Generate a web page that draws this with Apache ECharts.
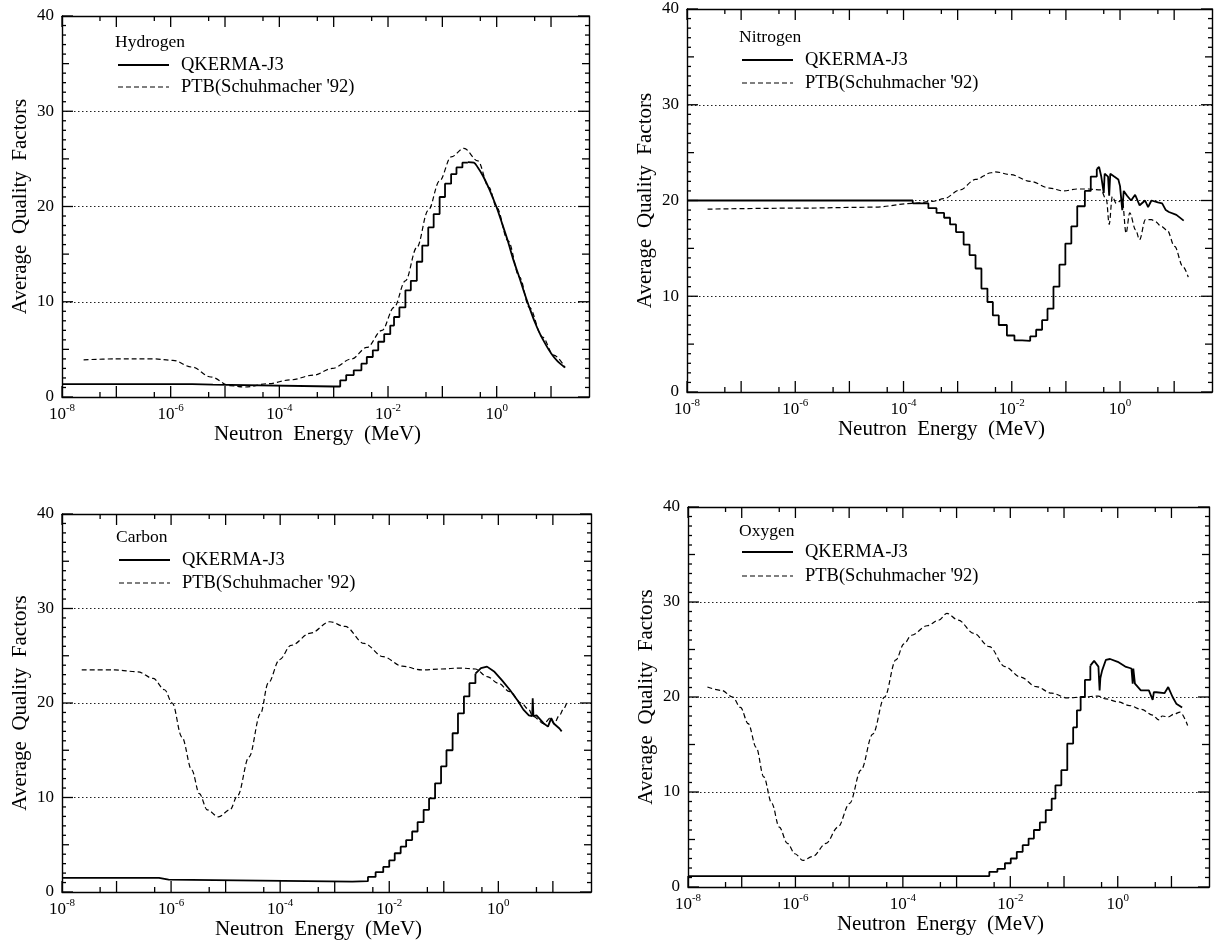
<!DOCTYPE html>
<html>
<head>
<meta charset="utf-8">
<title>Average Quality Factors</title>
<script src="https://cdn.jsdelivr.net/npm/echarts@6/dist/echarts.min.js"></script>
<style>
  html, body { margin: 0; padding: 0; background: #fff; }
  #chart { width: 1214px; height: 942px; }
</style>
</head>
<body>
<div id="chart"></div>
<script>
// ---- Axis ticks and labels (neutron energy in MeV, quality factor) ----
const decadeTicks = [1e-8, 1e-7, 1e-6, 1e-5, 1e-4, 1e-3, 1e-2, 1e-1, 1, 10];
const halfDecadeTicks = [5e-8, 5e-7, 5e-6, 5e-5, 5e-4, 5e-3, 5e-2, 5e-1, 5];
const energyLabels = [1e-8, 1e-6, 1e-4, 1e-2, 1];
const energyMin = 1e-8;
const energyMax = 50;
const qualityMin = 0;
const qualityMax = 40;
const qualityStep = 10;
const qualityMajorTicks = [0, 10, 20, 30, 40];
const qualityMidTicks = [5, 15, 25, 35];

const elements = ['Hydrogen', 'Nitrogen', 'Carbon', 'Oxygen'];
const seriesNames = ['QKERMA-J3', "PTB(Schuhmacher '92)"];

// ---- Hydrogen ----
// group-wise (histogram) part of QKERMA-J3
const hydrogenQkerma = [
  [1e-8, 1.35], [2.5e-6, 1.3], [6e-6, 1.1], [1e-3, 1.1],
  [1.32e-3, 1.75], [1.7e-3, 2.3], [2.34e-3, 2.8], [3.24e-3, 3.5], [4.07e-3, 4.2],
  [5.25e-3, 4.9], [6.61e-3, 5.8], [8.51e-3, 6.6], [1.1e-2, 7.5], [1.29e-2, 8.4],
  [1.62e-2, 9.4], [2.09e-2, 11.2], [2.63e-2, 12.2], [3.39e-2, 14.2], [4.27e-2, 15.9],
  [5.5e-2, 17.8], [6.92e-2, 19.2], [8.91e-2, 21.0], [0.112, 22.4], [0.145, 23.4],
  [0.182, 24.1], [0.234, 24.6], [0.295, 24.65]
];
// fine-group part above the peak
const hydrogenQkermaHigh = [
  [0.295, 24.65], [0.38, 24.6], [0.45, 24.1], [0.56, 23.2], [0.72, 21.9], [0.85, 20.9],
  [1.0, 19.9], [1.26, 18.2], [1.6, 16.4], [2.0, 14.5], [2.6, 12.6], [3.2, 11.0],
  [4.0, 9.4], [5.0, 7.9], [6.3, 6.6], [8.0, 5.5], [10, 4.6], [13, 3.8], [18, 3.1]
];
const hydrogenPtb = [
  [2.5e-8, 3.9], [9.5e-8, 4.0], [4.8e-7, 4.0], [1.1e-6, 3.85], [2.45e-6, 3.15],
  [5.5e-6, 2.1], [1.23e-5, 1.2], [2.34e-5, 1.05], [6.2e-5, 1.4], [1.62e-4, 1.8],
  [4.27e-4, 2.3], [9.5e-4, 3.0], [2.14e-3, 4.0], [4.07e-3, 5.2], [7.76e-3, 7.0],
  [1.29e-2, 9.4], [2.09e-2, 12.2], [3.39e-2, 15.7], [5.5e-2, 19.6], [8.91e-2, 22.7],
  [0.145, 25.2], [0.25, 26.1], [0.45, 24.8], [0.72, 22.0], [1.0, 19.9],
  [1.62, 16.4], [2.63, 12.6], [3.98, 9.4], [6.92, 6.3], [11.2, 4.4], [18.2, 3.1]
];

// ---- Nitrogen ----
const nitrogenQkerma = [
  [1e-8, 20.0], [7.6e-5, 20.0], [1.48e-4, 19.7], [2.88e-4, 19.2], [4.07e-4, 18.7],
  [5.62e-4, 18.2], [7.24e-4, 17.5], [9.33e-4, 16.7], [1.29e-3, 15.4], [1.66e-3, 14.3],
  [2.14e-3, 12.9], [2.75e-3, 10.8], [3.55e-3, 9.4], [4.47e-3, 8.0], [5.75e-3, 7.0],
  [8.13e-3, 5.9], [1.12e-2, 5.4], [1.55e-2, 5.35], [2.19e-2, 5.8], [2.82e-2, 6.5],
  [3.63e-2, 7.5], [4.57e-2, 8.7], [5.89e-2, 11.0], [7.59e-2, 13.3], [9.77e-2, 15.5],
  [0.126, 17.3], [0.162, 19.4], [0.224, 21.0], [0.288, 22.5], [0.372, 23.3]
];
const nitrogenQkermaHigh = [
  [0.372, 23.3], [0.41, 23.5], [0.45, 22.5], [0.5, 20.8], [0.52, 22.8], [0.6, 22.5],
  [0.63, 20.5], [0.66, 22.8], [0.78, 22.5], [0.93, 22.2], [1.0, 21.5], [1.1, 19.0],
  [1.17, 21.0], [1.35, 20.5], [1.6, 20.0], [1.9, 20.6], [2.3, 19.5], [2.9, 20.0],
  [3.3, 19.3], [3.8, 20.0], [5.0, 19.8], [6.0, 19.7], [7.0, 19.0], [8.0, 18.8],
  [11, 18.5], [15, 17.9]
];
const nitrogenPtb = [
  [2.4e-8, 19.1], [1e-6, 19.2], [2.8e-5, 19.3], [1.48e-4, 19.7], [3.39e-4, 19.9],
  [5.62e-4, 20.2], [1.1e-3, 21.1], [2.14e-3, 22.2], [4.17e-3, 22.9], [4.9e-3, 23.0],
  [9.55e-3, 22.7], [2.19e-2, 22.0], [5.01e-2, 21.3], [8.91e-2, 21.0], [0.162, 21.2],
  [0.263, 21.2], [0.44, 21.1], [0.56, 20.1], [0.63, 17.5], [0.72, 20.4], [0.85, 19.7],
  [1.1, 20.1], [1.29, 16.6], [1.51, 18.7], [1.95, 16.9], [2.29, 15.9], [2.95, 18.0],
  [3.8, 18.0], [4.47, 17.8], [5.75, 17.3], [7.41, 16.9], [10.2, 15.2], [14.5, 13.1],
  [18.2, 12.0]
];

// ---- Carbon ----
const carbonQkerma = [
  [1e-8, 1.5], [3.4e-7, 1.5], [6e-7, 1.3], [9e-7, 1.1], [2.1e-3, 1.15],
  [4.07e-3, 1.6], [5.62e-3, 2.1], [7.76e-3, 2.65], [1e-2, 3.35], [1.26e-2, 4.1],
  [1.62e-2, 4.8], [2.04e-2, 5.5], [2.63e-2, 6.4], [3.31e-2, 7.4], [4.27e-2, 8.7],
  [5.37e-2, 9.9], [6.92e-2, 11.5], [8.91e-2, 13.3], [0.112, 15.0], [0.145, 16.8],
  [0.182, 18.9], [0.234, 20.7], [0.295, 22.1], [0.38, 23.1]
];
const carbonQkermaHigh = [
  [0.38, 23.1], [0.48, 23.7], [0.62, 23.85], [0.85, 23.3], [1.17, 22.4], [1.62, 21.4],
  [2.24, 20.3], [2.88, 19.3], [3.63, 18.7], [4.17, 18.6], [4.27, 20.5], [4.4, 18.6],
  [5.01, 18.7], [6.92, 17.8], [8.13, 17.5], [9.33, 18.4], [10.5, 17.8], [13.2, 17.3],
  [14.5, 17.0]
];
const carbonPtb = [
  [2.3e-8, 23.5], [9.3e-8, 23.5], [2.45e-7, 23.3], [4.7e-7, 22.6], [7.6e-7, 21.4],
  [1.05e-6, 20.0], [1.58e-6, 16.4], [2.4e-6, 12.9], [3.3e-6, 10.4], [4.6e-6, 8.7],
  [7.4e-6, 7.95], [1.2e-5, 8.7], [1.66e-5, 10.2], [2.69e-5, 14.3], [4.37e-5, 18.9],
  [6.03e-5, 22.1], [9.8e-5, 24.6], [1.58e-4, 26.1], [3.63e-4, 27.4], [8.1e-4, 28.6],
  [1.55e-3, 28.1], [3.47e-3, 26.3], [7.76e-3, 24.9], [1.74e-2, 23.9], [3.89e-2, 23.5],
  [8.91e-2, 23.6], [0.2, 23.7], [0.38, 23.6], [0.62, 22.8], [1.0, 22.1], [1.62, 21.2],
  [2.63, 20.0], [3.63, 19.3], [4.27, 18.6], [6.92, 17.8], [8.9, 18.4], [10.5, 17.8],
  [13.2, 18.7], [15.8, 19.4], [18.6, 20.3]
];

// ---- Oxygen ----
const oxygenQkerma = [
  [1e-8, 1.15], [3.0e-3, 1.15], [4.07e-3, 1.6], [5.75e-3, 1.9], [7.94e-3, 2.5],
  [1.02e-2, 3.0], [1.32e-2, 3.7], [1.7e-2, 4.4], [2.19e-2, 5.1], [2.75e-2, 6.0],
  [3.55e-2, 6.8], [4.57e-2, 8.1], [5.89e-2, 9.3], [6.92e-2, 10.7], [8.91e-2, 12.3],
  [0.115, 15.1], [0.148, 16.8], [0.174, 18.6], [0.204, 20.0], [0.245, 21.8],
  [0.309, 23.3]
];
const oxygenQkermaHigh = [
  [0.309, 23.3], [0.363, 23.8], [0.437, 23.2], [0.46, 20.7], [0.475, 22.0],
  [0.513, 22.8], [0.6, 23.9], [0.72, 24.0], [1.0, 23.7], [1.38, 23.2], [1.8, 23.0],
  [1.9, 21.4], [1.95, 23.0], [2.09, 21.4], [2.69, 20.7], [3.8, 20.7], [4.47, 19.7],
  [4.7, 20.5], [5.25, 20.5], [7.41, 20.4], [8.7, 21.05], [10.5, 20.0], [12.3, 19.3],
  [15.8, 18.9]
];
const oxygenPtb = [
  [2.3e-8, 21.05], [4.2e-8, 20.7], [6.8e-8, 20.0], [9.5e-8, 18.9], [1.32e-7, 17.2],
  [1.86e-7, 14.7], [2.57e-7, 11.6], [3.63e-7, 8.8], [5.01e-7, 6.3], [7.08e-7, 4.6],
  [9.8e-7, 3.5], [1.38e-6, 2.8], [2.09e-6, 3.2], [3.72e-6, 4.6], [6.17e-6, 6.3],
  [1.02e-5, 8.8], [1.66e-5, 12.3], [2.75e-5, 16.1], [4.57e-5, 20.0], [7.41e-5, 23.9],
  [1.05e-4, 25.6], [1.45e-4, 26.5], [2.82e-4, 27.5], [4.68e-4, 28.1], [6.61e-4, 28.8],
  [1.07e-3, 28.1], [2.09e-3, 26.7], [4.07e-3, 25.3], [7.94e-3, 23.2], [1.55e-2, 22.1],
  [3.02e-2, 21.1], [5.89e-2, 20.4], [0.115, 19.9], [0.224, 20.0], [0.437, 20.1],
  [0.6, 19.8], [1.0, 19.5], [1.66, 19.1], [2.75, 18.7], [4.47, 18.1], [5.75, 17.6],
  [6.76, 18.0], [8.7, 17.9], [11.2, 18.2], [14.5, 18.4], [20, 17.0]
];

const qkermaGroups = [hydrogenQkerma, nitrogenQkerma, carbonQkerma, oxygenQkerma];
const qkermaHigh = [hydrogenQkermaHigh, nitrogenQkermaHigh, carbonQkermaHigh, oxygenQkermaHigh];
const ptbData = [hydrogenPtb, nitrogenPtb, carbonPtb, oxygenPtb];

// ---- Layout of the four panels ----
const FONT = '"Liberation Serif", "Times New Roman", serif';
const INK = '#000';
const panelBoxes = [
  { left: 62,  top: 16,  width: 527, height: 381 },
  { left: 687, top: 9,   width: 525, height: 383 },
  { left: 62,  top: 514, width: 529, height: 378 },
  { left: 688, top: 507, width: 521, height: 380 }
];
// key placement inside each panel: element name, first and second key rows
const keyPlacement = [
  { dx: 53, nameY: 27, row1: 49, row2: 71 },
  { dx: 52, nameY: 29, row1: 51, row2: 74 },
  { dx: 54, nameY: 24, row1: 46, row2: 69 },
  { dx: 51, nameY: 25, row1: 45, row2: 69 }
];

function energyAxis(i, position, withLabels) {
  return {
    type: 'log', logBase: 10, gridIndex: i, position: position,
    min: energyMin, max: energyMax,
    axisLine: { show: true, onZero: false, lineStyle: { color: INK, width: 1.4 } },
    axisTick: { show: false },
    axisLabel: {
      show: withLabels, customValues: energyLabels, margin: 6,
      formatter: v => '{b|10}{s|' + Math.round(Math.log10(v)) + '}',
      rich: {
        b: { fontFamily: FONT, fontSize: 17, color: INK, lineHeight: 20, verticalAlign: 'bottom' },
        s: { fontFamily: FONT, fontSize: 11, color: INK, lineHeight: 12, verticalAlign: 'top' }
      }
    },
    splitLine: { show: false },
    name: withLabels ? 'Neutron  Energy  (MeV)' : '',
    nameLocation: 'middle', nameGap: 26,
    nameTextStyle: { fontFamily: FONT, fontSize: 21, color: INK, padding: [0, 16, 0, 0] }
  };
}

function qualityAxis(i, position, withLabels) {
  return {
    type: 'value', gridIndex: i, position: position,
    min: qualityMin, max: qualityMax, interval: qualityStep,
    axisLine: { show: true, lineStyle: { color: INK, width: 1.4 } },
    axisTick: { show: false },
    axisLabel: { show: withLabels, fontFamily: FONT, fontSize: 17, color: INK, margin: 8 },
    splitLine: { show: withLabels, lineStyle: { color: '#222', width: 1.1, type: [1.5, 2.5] } },
    name: withLabels ? 'Average  Quality  Factors' : '',
    nameLocation: 'middle', nameGap: 31,
    nameTextStyle: { fontFamily: FONT, fontSize: 21, color: INK }
  };
}

function tickLine(x1, y1, x2, y2) {
  return { type: 'line', shape: { x1, y1, x2, y2 }, style: { stroke: INK, lineWidth: 1.3 } };
}

// inward tick marks on both bottom/top frame edges, placed through the energy scale
function renderEnergyTicks(params, api) {
  const e = api.value(0);
  const len = api.value(2) === 2 ? 11 : 5;
  const b = api.coord([e, qualityMin]);
  const t = api.coord([e, qualityMax]);
  return { type: 'group', children: [
    tickLine(b[0], b[1], b[0], b[1] - len),
    tickLine(t[0], t[1], t[0], t[1] + len)
  ] };
}

// inward tick marks on both left/right frame edges, placed through the quality scale
function renderQualityTicks(params, api) {
  const q = api.value(1);
  const len = [4, 7, 11][api.value(2)];
  const l = api.coord([energyMin, q]);
  const r = api.coord([energyMax, q]);
  return { type: 'group', children: [
    tickLine(l[0], l[1], l[0] + len, l[1]),
    tickLine(r[0], r[1], r[0] - len, r[1])
  ] };
}

const energyTickData = decadeTicks.map(v => [v, qualityMin, 2])
  .concat(halfDecadeTicks.map(v => [v, qualityMin, 0]));
const qualityTickData = [];
for (let q = qualityMin; q <= qualityMax; q++) {
  const level = qualityMajorTicks.includes(q) ? 2 : (qualityMidTicks.includes(q) ? 1 : 0);
  qualityTickData.push([energyMin, q, level]);
}

const grid = [], xAxis = [], yAxis = [], series = [], graphic = [];

panelBoxes.forEach((box, i) => {
  grid.push(Object.assign({ containLabel: false }, box));
  xAxis.push(energyAxis(i, 'bottom', true));
  xAxis.push(energyAxis(i, 'top', false));
  yAxis.push(qualityAxis(i, 'left', true));
  yAxis.push(qualityAxis(i, 'right', false));

  const xi = 2 * i, yi = 2 * i;
  const solid = { color: INK, width: 1.8 };
  const dashed = { color: INK, width: 1.2, type: [5, 3] };

  series.push({
    type: 'line', name: seriesNames[0], xAxisIndex: xi, yAxisIndex: yi,
    data: qkermaGroups[i], step: 'end', symbol: 'none', z: 4,
    lineStyle: solid, itemStyle: { color: INK }
  });
  series.push({
    type: 'line', name: seriesNames[0], xAxisIndex: xi, yAxisIndex: yi,
    data: qkermaHigh[i], smooth: i === 0 ? 0.3 : false, symbol: 'none', z: 4,
    lineStyle: solid, itemStyle: { color: INK }
  });
  series.push({
    type: 'line', name: seriesNames[1], xAxisIndex: xi, yAxisIndex: yi,
    data: ptbData[i], smooth: 0.35, smoothMonotone: 'x', symbol: 'none', z: 3,
    lineStyle: dashed, itemStyle: { color: INK }
  });
  series.push({
    type: 'custom', xAxisIndex: xi, yAxisIndex: yi, silent: true, clip: false, z: 5,
    encode: { x: 0, y: 1 }, data: energyTickData, renderItem: renderEnergyTicks
  });
  series.push({
    type: 'custom', xAxisIndex: xi, yAxisIndex: yi, silent: true, clip: false, z: 5,
    encode: { x: 0, y: 1 }, data: qualityTickData, renderItem: renderQualityTicks
  });

  // element name and line key
  const k = keyPlacement[i];
  const x0 = box.left + k.dx;
  const keyText = { fontFamily: FONT, fontSize: 18.5, fill: INK, textVerticalAlign: 'middle' };
  graphic.push(
    { type: 'text', left: x0, top: box.top + k.nameY - 10,
      style: { text: elements[i], fontFamily: FONT, fontSize: 17.5, fill: INK } },
    { type: 'line', shape: { x1: x0 + 3, y1: box.top + k.row1, x2: x0 + 54, y2: box.top + k.row1 },
      style: { stroke: INK, lineWidth: 1.8 } },
    { type: 'text', x: x0 + 66, y: box.top + k.row1,
      style: Object.assign({ text: seriesNames[0] }, keyText) },
    { type: 'line', shape: { x1: x0 + 3, y1: box.top + k.row2, x2: x0 + 54, y2: box.top + k.row2 },
      style: { stroke: INK, lineWidth: 1.2, lineDash: [5, 3] } },
    { type: 'text', x: x0 + 66, y: box.top + k.row2,
      style: Object.assign({ text: seriesNames[1] }, keyText) }
  );
});

const chart = echarts.init(document.getElementById('chart'), null, { renderer: 'canvas' });
chart.setOption({
  animation: false,
  backgroundColor: '#fff',
  grid, xAxis, yAxis, series, graphic
});
</script>
</body>
</html>
